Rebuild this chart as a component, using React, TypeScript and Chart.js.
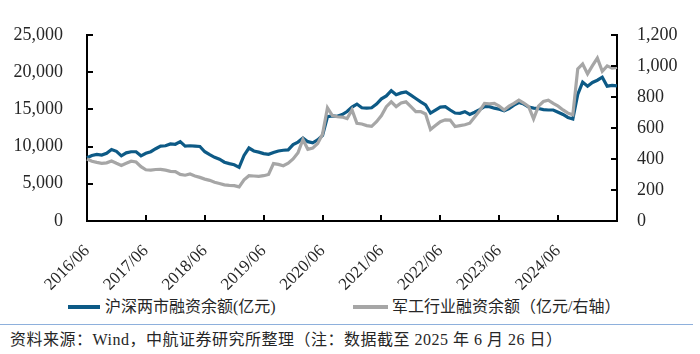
import React, { useEffect, useRef } from "react";
import { Chart, registerables } from "chart.js";

Chart.register(...registerables);

// Monthly categories 2016/06 .. 2025/06
const startYear = 2016;
const startMonth = 6;
const monthCount = 109;
const categories: string[] = [];
for (let i = 0; i < monthCount; i++) {
  const t = startMonth - 1 + i;
  const y = startYear + Math.floor(t / 12);
  const m = (t % 12) + 1;
  categories.push(`${y}/${m < 10 ? "0" + m : m}`);
}

const xTickLabels = [
  "2016/06", "2017/06", "2018/06", "2019/06", "2020/06",
  "2021/06", "2022/06", "2023/06", "2024/06",
];

// 沪深两市融资余额 (亿元), left axis
const marginTotal = [
  8500, 8800, 8950, 8850, 9100, 9600, 9350, 8750, 9150, 9300, 9300, 8750,
  9100, 9300, 9700, 10050, 10100, 10350, 10300, 10650, 10050, 10100, 10050, 10000,
  9300, 8900, 8550, 8300, 7900, 7700, 7550, 7200, 8800, 9800, 9400, 9250,
  9050, 8950, 9200, 9400, 9500, 9550, 10250, 10600, 11150, 10650, 10500, 10900,
  11500, 14000, 14100, 14050, 14300, 14700, 15300, 15700, 15200, 15150, 15200, 15700,
  16400, 16800, 17500, 16950, 17200, 17330, 16900, 16450, 16000, 15600, 14500, 14900,
  15300, 15350, 14900, 14500, 14460, 14680, 14300, 14600, 14950, 15350, 15350, 15150,
  15000, 14800, 15100, 15550, 15900, 15700, 15300, 15150, 15100, 14950, 14900, 14900,
  14600, 14300, 13900, 13700, 17000, 18650, 18100, 18600, 18900, 19300, 18100, 18200,
  18150,
];

// 军工行业融资余额 (亿元), right axis
const defenseMargin = [
  400, 385, 378, 372, 375, 387, 372, 358, 372, 385, 380, 350,
  330, 328, 332, 333, 328, 320, 318, 300, 295, 303, 290, 281,
  270, 262, 250, 242, 233, 230, 228, 220, 265, 292, 290, 288,
  292, 300, 370, 365, 356, 372, 400, 440, 525, 462, 470, 500,
  560, 730, 680, 672, 670, 660, 716, 630, 625, 615, 610, 640,
  680, 737, 768, 737, 760, 768, 737, 705, 705, 690, 589, 615,
  640, 652, 650, 609, 615, 620, 630, 670, 710, 758, 755, 758,
  740, 716, 740, 758, 779, 760, 737, 658, 740, 770, 779, 758,
  740, 716, 695, 684, 980, 1012, 948, 1001, 1050, 965, 1000, 985,
  990,
];

const leftTicks = [0, 5000, 10000, 15000, 20000, 25000];
const rightTicks = [0, 200, 400, 600, 800, 1000, 1200];

const seriesNames = ["沪深两市融资余额(亿元)", "军工行业融资余额（亿元/右轴）"];
const BLUE = "#0d5a86";
const GREY = "#a6a6a6";
const TEXT = "#262626";

const innerTicks = {
  id: "innerTicks",
  afterDraw(chart: any) {
    const { ctx, chartArea } = chart;
    const len = 6;
    ctx.save();
    ctx.strokeStyle = "#000";
    ctx.lineWidth = 2;
    ctx.beginPath();
    const y = chart.scales.y;
    y.ticks.forEach((_t: any, i: number) => {
      const py = Math.round(y.getPixelForTick(i));
      ctx.moveTo(chartArea.left, py);
      ctx.lineTo(chartArea.left + len, py);
    });
    const y2 = chart.scales.y2;
    y2.ticks.forEach((_t: any, i: number) => {
      const py = Math.round(y2.getPixelForTick(i));
      ctx.moveTo(chartArea.right, py);
      ctx.lineTo(chartArea.right - len, py);
    });
    const x = chart.scales.x;
    x.ticks.forEach((_t: any, i: number) => {
      const px = Math.round(x.getPixelForTick(i));
      ctx.moveTo(px, chartArea.bottom);
      ctx.lineTo(px, chartArea.bottom - len);
    });
    ctx.stroke();
    ctx.restore();
  },
};

export default function App() {
  const ref = useRef<HTMLCanvasElement | null>(null);
  useEffect(() => {
    if (!ref.current) return;
    const tickFont = { family: "'Liberation Serif', serif", size: 18 };
    const chart = new Chart(ref.current, {
      type: "line",
      data: {
        labels: categories,
        datasets: [
          {
            label: seriesNames[1],
            data: defenseMargin,
            yAxisID: "y2",
            borderColor: GREY,
            backgroundColor: GREY,
            borderWidth: 3.2,
            pointRadius: 0,
            tension: 0,
            order: 0,
          },
          {
            label: seriesNames[0],
            data: marginTotal,
            yAxisID: "y",
            borderColor: BLUE,
            backgroundColor: BLUE,
            borderWidth: 3.2,
            pointRadius: 0,
            tension: 0,
            order: 1,
          },
        ],
      },
      options: {
        responsive: false,
        animation: false,
        devicePixelRatio: 1,
        layout: { padding: { top: 32, left: 0, right: 0, bottom: 0 } },
        plugins: { legend: { display: false }, tooltip: { enabled: false } },
        scales: {
          x: {
            type: "category",
            offset: false,
            grid: { display: false, drawTicks: false, tickLength: 0 },
            border: { display: true, color: "#000", width: 2 },
            afterBuildTicks: (s: any) => {
              s.ticks = s.ticks.filter((t: any) => xTickLabels.includes(categories[t.value]));
            },
            ticks: {
              autoSkip: false,
              minRotation: 45,
              maxRotation: 45,
              padding: 20,
              color: TEXT,
              font: { family: "'Liberation Serif', serif", size: 17 },
              callback: (v: any) => categories[v],
            },
            afterFit: (s: any) => {
              s.height = 74;
            },
          },
          y: {
            position: "left",
            min: leftTicks[0],
            max: leftTicks[leftTicks.length - 1],
            grid: { display: false, drawTicks: false, tickLength: 0 },
            border: { display: true, color: "#000", width: 2 },
            afterBuildTicks: (s: any) => {
              s.ticks = leftTicks.map((v) => ({ value: v }));
            },
            ticks: {
              padding: 24,
              color: TEXT,
              font: tickFont,
              callback: (v: any) => Number(v).toLocaleString("en-US"),
            },
            afterFit: (s: any) => {
              s.width = 87;
            },
          },
          y2: {
            position: "right",
            min: rightTicks[0],
            max: rightTicks[rightTicks.length - 1],
            grid: { display: false, drawTicks: false, tickLength: 0 },
            border: { display: true, color: "#000", width: 2 },
            afterBuildTicks: (s: any) => {
              s.ticks = rightTicks.map((v) => ({ value: v }));
            },
            ticks: {
              padding: 20,
              color: TEXT,
              font: tickFont,
              callback: (v: any) => Number(v).toLocaleString("en-US"),
            },
            afterFit: (s: any) => {
              s.width = 83;
            },
          },
        },
      },
      plugins: [innerTicks],
    } as any);
    return () => chart.destroy();
  }, []);

  const legendFont = "'Liberation Serif', 'Noto Sans CJK SC', serif";
  return (
    <div
      style={{
        position: "absolute",
        left: 0,
        top: 0,
        width: 700,
        height: 354,
        background: "#fff",
        overflow: "hidden",
        fontFamily: legendFont,
        color: TEXT,
      }}
    >
      <canvas ref={ref} width={700} height={295} style={{ display: "block" }} />
      <div style={{ position: "absolute", left: 68, top: 305, width: 32, height: 4, background: BLUE }} />
      <div style={{ position: "absolute", left: 105, top: 297, fontSize: 16, lineHeight: "20px", whiteSpace: "nowrap" }}>
        {seriesNames[0]}
      </div>
      <div style={{ position: "absolute", left: 353, top: 305, width: 35, height: 4, background: GREY }} />
      <div style={{ position: "absolute", left: 392, top: 297, fontSize: 16, lineHeight: "20px", whiteSpace: "nowrap" }}>
        {seriesNames[1]}
      </div>
      <div style={{ position: "absolute", left: 0, top: 324, width: 693, height: 1, background: "#8eb0dc" }} />
      <div style={{ position: "absolute", left: 10, top: 330, fontSize: 16, lineHeight: "20px", letterSpacing: "0.5px", whiteSpace: "nowrap" }}>
        资料来源：Wind，中航证券研究所整理（注：数据截至 2025 年 6 月 26 日）
      </div>
    </div>
  );
}
